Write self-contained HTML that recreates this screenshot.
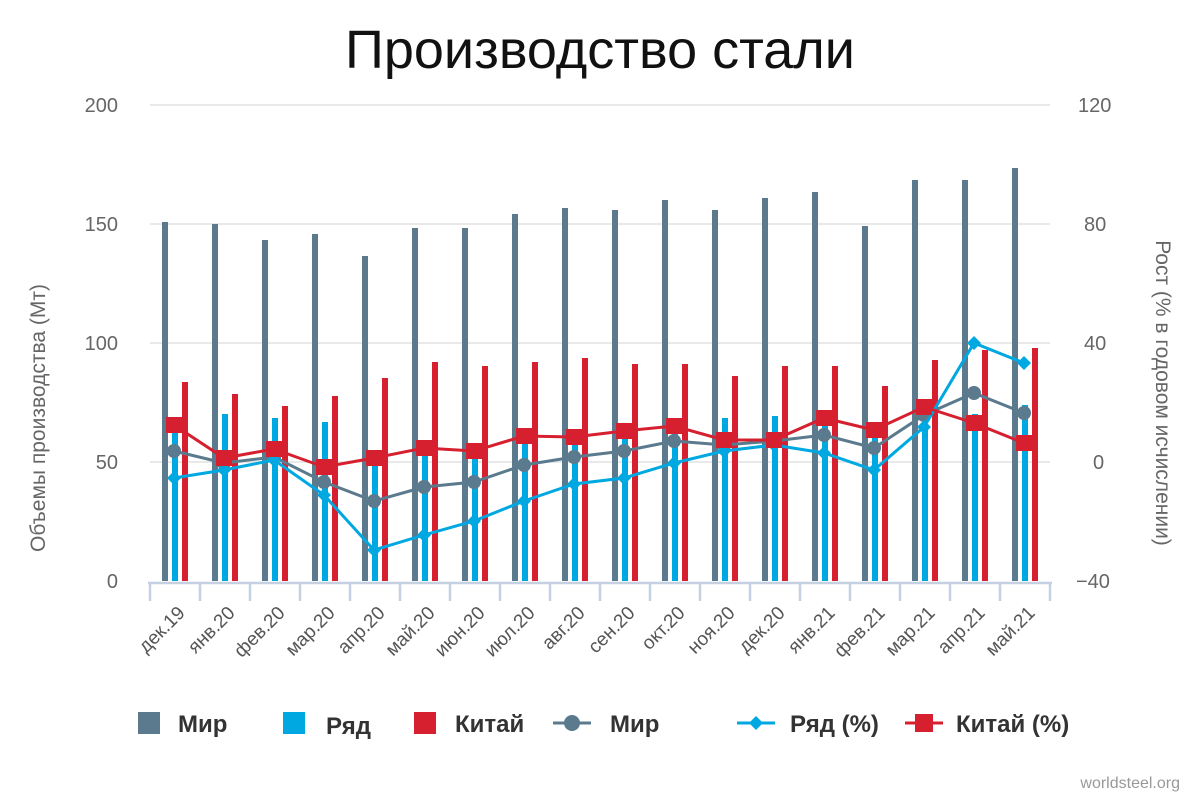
<!DOCTYPE html>
<html><head><meta charset="utf-8"><style>
body{margin:0;background:#fff;width:1200px;height:800px;overflow:hidden}
svg text{font-family:"Liberation Sans","DejaVu Sans",sans-serif}
</style></head><body>
<svg width="1200" height="800" viewBox="0 0 1200 800" xmlns="http://www.w3.org/2000/svg">
<text x="600" y="68" text-anchor="middle" font-size="54" fill="#111">Производство стали</text>
<g stroke="#e2e2e2" stroke-width="1.5">
<line x1="150" y1="105" x2="1050" y2="105"/><line x1="150" y1="224" x2="1050" y2="224"/>
<line x1="150" y1="343" x2="1050" y2="343"/><line x1="150" y1="462" x2="1050" y2="462"/>
</g>
<g font-size="20" fill="#666" text-anchor="end">
<text x="118" y="112">200</text><text x="118" y="231">150</text><text x="118" y="350">100</text><text x="118" y="469">50</text><text x="118" y="588">0</text>
</g>
<g font-size="20" fill="#666" text-anchor="start">
<text x="1078" y="112">120</text><text x="1084" y="231">80</text><text x="1084" y="350">40</text><text x="1093" y="469">0</text><text x="1076" y="588">−40</text>
</g>
<text transform="translate(45,418) rotate(-90)" text-anchor="middle" font-size="21" fill="#666">Объемы производства (Мт)</text>
<text transform="translate(1156,393) rotate(90)" text-anchor="middle" font-size="21" fill="#666">Рост (% в годовом исчислении)</text>
<g fill="#5b7a8e">
<rect x="162" y="222" width="6" height="359"/><rect x="212" y="224" width="6" height="357"/><rect x="262" y="240" width="6" height="341"/><rect x="312" y="234" width="6" height="347"/><rect x="362" y="256" width="6" height="325"/><rect x="412" y="228" width="6" height="353"/><rect x="462" y="228" width="6" height="353"/><rect x="512" y="214" width="6" height="367"/><rect x="562" y="208" width="6" height="373"/><rect x="612" y="210" width="6" height="371"/><rect x="662" y="200" width="6" height="381"/><rect x="712" y="210" width="6" height="371"/><rect x="762" y="198" width="6" height="383"/><rect x="812" y="192" width="6" height="389"/><rect x="862" y="226" width="6" height="355"/><rect x="912" y="180" width="6" height="401"/><rect x="962" y="180" width="6" height="401"/><rect x="1012" y="168" width="6" height="413"/>
</g>
<g fill="#00a8e1">
<rect x="172" y="430" width="6" height="151"/><rect x="222" y="414" width="6" height="167"/><rect x="272" y="418" width="6" height="163"/><rect x="322" y="422" width="6" height="159"/><rect x="372" y="460" width="6" height="121"/><rect x="422" y="450" width="6" height="131"/><rect x="472" y="452" width="6" height="129"/><rect x="522" y="440" width="6" height="141"/><rect x="572" y="435" width="6" height="146"/><rect x="622" y="432" width="6" height="149"/><rect x="672" y="427" width="6" height="154"/><rect x="722" y="418" width="6" height="163"/><rect x="772" y="416" width="6" height="165"/><rect x="822" y="425" width="6" height="156"/><rect x="872" y="435" width="6" height="146"/><rect x="922" y="425" width="6" height="156"/><rect x="972" y="414" width="6" height="167"/><rect x="1022" y="405" width="6" height="176"/>
</g>
<g fill="#d6202f">
<rect x="182" y="382" width="6" height="199"/><rect x="232" y="394" width="6" height="187"/><rect x="282" y="406" width="6" height="175"/><rect x="332" y="396" width="6" height="185"/><rect x="382" y="378" width="6" height="203"/><rect x="432" y="362" width="6" height="219"/><rect x="482" y="366" width="6" height="215"/><rect x="532" y="362" width="6" height="219"/><rect x="582" y="358" width="6" height="223"/><rect x="632" y="364" width="6" height="217"/><rect x="682" y="364" width="6" height="217"/><rect x="732" y="376" width="6" height="205"/><rect x="782" y="366" width="6" height="215"/><rect x="832" y="366" width="6" height="215"/><rect x="882" y="386" width="6" height="195"/><rect x="932" y="360" width="6" height="221"/><rect x="982" y="350" width="6" height="231"/><rect x="1032" y="348" width="6" height="233"/>
</g>
<g stroke="#c5d0e3" stroke-width="2.5">
<line x1="148" y1="583" x2="1052" y2="583"/>
<line x1="150" y1="583" x2="150" y2="601"/><line x1="200" y1="583" x2="200" y2="601"/><line x1="250" y1="583" x2="250" y2="601"/><line x1="300" y1="583" x2="300" y2="601"/><line x1="350" y1="583" x2="350" y2="601"/><line x1="400" y1="583" x2="400" y2="601"/><line x1="450" y1="583" x2="450" y2="601"/><line x1="500" y1="583" x2="500" y2="601"/><line x1="550" y1="583" x2="550" y2="601"/><line x1="600" y1="583" x2="600" y2="601"/><line x1="650" y1="583" x2="650" y2="601"/><line x1="700" y1="583" x2="700" y2="601"/><line x1="750" y1="583" x2="750" y2="601"/><line x1="800" y1="583" x2="800" y2="601"/><line x1="850" y1="583" x2="850" y2="601"/><line x1="900" y1="583" x2="900" y2="601"/><line x1="950" y1="583" x2="950" y2="601"/><line x1="1000" y1="583" x2="1000" y2="601"/><line x1="1050" y1="583" x2="1050" y2="601"/>
</g>
<g font-size="19" fill="#555" text-anchor="end">
<text transform="translate(186,614) rotate(-45)">дек.19</text><text transform="translate(236,614) rotate(-45)">янв.20</text><text transform="translate(286,614) rotate(-45)">фев.20</text><text transform="translate(336,614) rotate(-45)">мар.20</text><text transform="translate(386,614) rotate(-45)">апр.20</text><text transform="translate(436,614) rotate(-45)">май.20</text><text transform="translate(486,614) rotate(-45)">июн.20</text><text transform="translate(536,614) rotate(-45)">июл.20</text><text transform="translate(586,614) rotate(-45)">авг.20</text><text transform="translate(636,614) rotate(-45)">сен.20</text><text transform="translate(686,614) rotate(-45)">окт.20</text><text transform="translate(736,614) rotate(-45)">ноя.20</text><text transform="translate(786,614) rotate(-45)">дек.20</text><text transform="translate(836,614) rotate(-45)">янв.21</text><text transform="translate(886,614) rotate(-45)">фев.21</text><text transform="translate(936,614) rotate(-45)">мар.21</text><text transform="translate(986,614) rotate(-45)">апр.21</text><text transform="translate(1036,614) rotate(-45)">май.21</text>
</g>
<polyline fill="none" stroke="#5b7a8e" stroke-width="3" points="174,451 224,463 274,457 324,482 374,501 424,487 474,482 524,465 574,457 624,451 674,441 724,445 774,441 824,435 874,448 924,415 974,393 1024,413"/>
<g fill="#5b7a8e">
<circle cx="174" cy="451" r="7"/><circle cx="224" cy="463" r="7"/><circle cx="274" cy="457" r="7"/><circle cx="324" cy="482" r="7"/><circle cx="374" cy="501" r="7"/><circle cx="424" cy="487" r="7"/><circle cx="474" cy="482" r="7"/><circle cx="524" cy="465" r="7"/><circle cx="574" cy="457" r="7"/><circle cx="624" cy="451" r="7"/><circle cx="674" cy="441" r="7"/><circle cx="724" cy="445" r="7"/><circle cx="774" cy="441" r="7"/><circle cx="824" cy="435" r="7"/><circle cx="874" cy="448" r="7"/><circle cx="924" cy="415" r="7"/><circle cx="974" cy="393" r="7"/><circle cx="1024" cy="413" r="7"/>
</g>
<polyline fill="none" stroke="#00a8e1" stroke-width="3" points="174,478 224,470 274,460 324,495 374,550 424,535 474,521 524,501 574,484 624,478 674,463 724,451 774,445 824,453 874,470 924,427 974,343 1024,363"/>
<g fill="#00a8e1">
<path d="M174 471l7 7-7 7-7-7z M224 463l7 7-7 7-7-7z M274 453l7 7-7 7-7-7z M324 488l7 7-7 7-7-7z M374 543l7 7-7 7-7-7z M424 528l7 7-7 7-7-7z M474 514l7 7-7 7-7-7z M524 494l7 7-7 7-7-7z M574 477l7 7-7 7-7-7z M624 471l7 7-7 7-7-7z M674 456l7 7-7 7-7-7z M724 444l7 7-7 7-7-7z M774 438l7 7-7 7-7-7z M824 446l7 7-7 7-7-7z M874 463l7 7-7 7-7-7z M924 420l7 7-7 7-7-7z M974 336l7 7-7 7-7-7z M1024 356l7 7-7 7-7-7z"/>
</g>
<polyline fill="none" stroke="#d6202f" stroke-width="3" points="174,425 224,458 274,449 324,467 374,458 424,448 474,451 524,436 574,437 624,431 674,426 724,440 774,440 824,418 874,430 924,407 974,423 1024,443"/>
<g fill="#d6202f">
<rect x="166" y="417" width="16" height="16"/><rect x="216" y="450" width="16" height="16"/><rect x="266" y="441" width="16" height="16"/><rect x="316" y="459" width="16" height="16"/><rect x="366" y="450" width="16" height="16"/><rect x="416" y="440" width="16" height="16"/><rect x="466" y="443" width="16" height="16"/><rect x="516" y="428" width="16" height="16"/><rect x="566" y="429" width="16" height="16"/><rect x="616" y="423" width="16" height="16"/><rect x="666" y="418" width="16" height="16"/><rect x="716" y="432" width="16" height="16"/><rect x="766" y="432" width="16" height="16"/><rect x="816" y="410" width="16" height="16"/><rect x="866" y="422" width="16" height="16"/><rect x="916" y="399" width="16" height="16"/><rect x="966" y="415" width="16" height="16"/><rect x="1016" y="435" width="16" height="16"/>
</g>
<g font-size="24" font-weight="bold" fill="#333">
<rect x="138" y="712" width="22" height="22" fill="#5b7a8e"/><text x="178" y="732">Мир</text>
<rect x="283" y="712" width="22" height="22" fill="#00a8e1"/><text x="326" y="734">Ряд</text>
<rect x="414" y="712" width="22" height="22" fill="#d6202f"/><text x="455" y="732">Китай</text>
<line x1="553" y1="723" x2="591" y2="723" stroke="#5b7a8e" stroke-width="3"/><circle cx="572" cy="723" r="8" fill="#5b7a8e"/><text x="610" y="732">Мир</text>
<line x1="737" y1="723" x2="775" y2="723" stroke="#00a8e1" stroke-width="3"/><path d="M756 716l7 7-7 7-7-7z" fill="#00a8e1"/><text x="790" y="732">Ряд (%)</text>
<line x1="905" y1="723" x2="943" y2="723" stroke="#d6202f" stroke-width="3"/><rect x="915" y="714" width="18" height="18" fill="#d6202f"/><text x="956" y="732">Китай (%)</text>
</g>
<text x="1180" y="788" text-anchor="end" font-size="16" fill="#999">worldsteel.org</text>
</svg>
</body></html>
